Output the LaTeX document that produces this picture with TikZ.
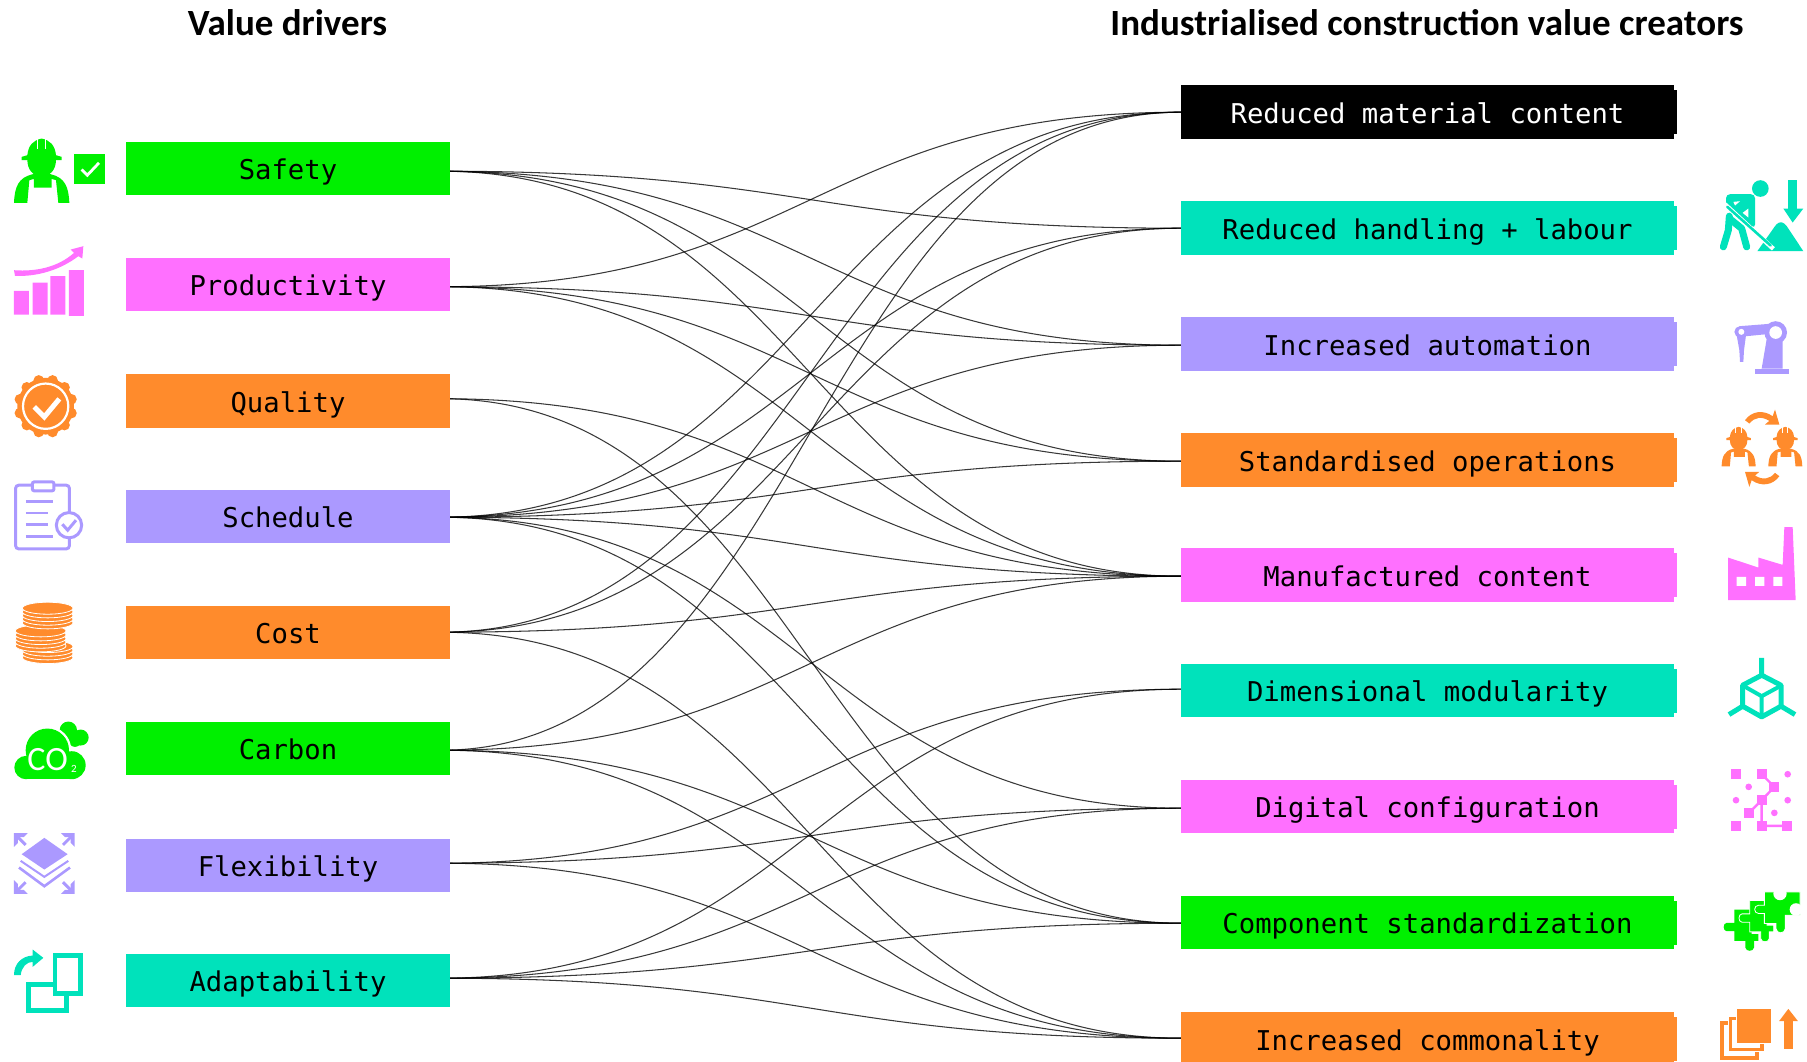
\documentclass[tikz,border=0pt]{standalone}
\usepackage{fontspec}
\setmainfont{DejaVu Sans Mono}
\newfontfamily\headfont{Carlito}
\usetikzlibrary{calc}
\definecolor{vgreen}{HTML}{00F000}
\definecolor{vpink}{HTML}{FF70FF}
\definecolor{vorange}{HTML}{FF8B2C}
\definecolor{vpurple}{HTML}{AB99FF}
\definecolor{vteal}{HTML}{00E2BB}
\pgfdeclarelayer{bg}
\pgfsetlayers{bg,main}
\tikzset{
  valuebox/.style={fill=#1,draw=none,inner sep=0pt,text=black,font=\fontsize{27.25}{30}\selectfont,
    text height=23pt,text depth=1pt,anchor=center,minimum width=324pt,minimum height=53pt},
  createbox/.style={valuebox=#1,minimum width=493pt,minimum height=54pt},
  heading/.style={font=\headfont\bfseries\fontsize{37}{40}\selectfont,text=black,inner sep=0pt},
  linkline/.style={draw=black,draw opacity=.78,line width=1.05pt},
  zoomed/.style={x=.33333pt,y=-.33333pt},
}
\def\offSafety{-2.5pt}\def\offProductivity{-2pt}\def\offQuality{2.5pt}\def\offSchedule{-.5pt}
\def\offCost{.5pt}\def\offCarbon{-1.5pt}\def\offFlexibility{2.5pt}\def\offAdaptability{2.5pt}
\def\offRa{0pt}\def\offRb{0pt}\def\offRc{-1pt}\def\offRd{-1pt}\def\offRe{-1pt}\def\offRf{1.5pt}\def\offRg{-1.5pt}\def\offRh{-.5pt}\def\offRi{1pt}
\newcommand\lnk[2]{\draw[linkline] ([xshift=-9pt,yshift=\csname off#1\endcsname]#1.east) .. controls +(365,0) and +(-365,0) .. ([yshift=\csname off#2\endcsname]#2.west);}
\newcommand\workerpath[1]{%
  \fill[#1] (65,110) -- (82,105) .. controls (85,75) and (100,60) .. (125,55) .. controls (150,60) and (165,75) .. (168,105) -- (185,110) -- (185,120) -- (65,120) -- cycle;
  \fill[#1] (82,118) .. controls (82,150) and (100,168) .. (125,168) .. controls (150,168) and (168,150) .. (168,118) -- cycle;
  \draw[white,line width=1pt] (112,52) -- (112,86) (137,52) -- (137,86);
  \fill[#1] (42,248) .. controls (44,200) and (55,172) .. (98,162) -- (152,162) .. controls (195,172) and (206,200) .. (208,248) -- (175,248) -- (168,180) -- (155,176) -- (155,202) -- (102,202) -- (102,176) -- (88,180) -- (82,248) -- cycle;
}
\newcommand\puzzlepiece{(283,1048) -- (335,1048) -- (335,1122) -- (355,1122) -- (355,1142) -- (342,1142) -- (342,1162) .. controls (340,1175) and (318,1175) .. (316,1162) -- (316,1142) -- (283,1142) -- (283,1113) -- (260,1113) .. controls (248,1113) and (248,1088) .. (260,1088) -- (283,1088) -- cycle}
\begin{document}
\begin{tikzpicture}[x=1pt,y=-1pt]
\useasboundingbox (0,0) rectangle (1807,1061);
\clip (0,0) rectangle (1807,1061);
\begin{scope}[yshift=-.2pt]
% headings
\node[heading] (h1) at (287.5,22.5) {Value drivers};
\node[heading] (h2) at (1427,22.5) {Industrialised construction value creators};
% left boxes
\node[valuebox=vgreen] (Safety) at (288,168.5) {Safety};
\node[valuebox=vpink] (Productivity) at (288,284.5) {Productivity};
\node[valuebox=vorange,minimum height=54pt] (Quality) at (288,401) {Quality};
\node[valuebox=vpurple] (Schedule) at (288,516.5) {Schedule};
\node[valuebox=vorange] (Cost) at (288,632.5) {Cost};
\node[valuebox=vgreen] (Carbon) at (288,748.5) {Carbon};
\node[valuebox=vpurple] (Flexibility) at (288,865.5) {Flexibility};
\node[valuebox=vteal] (Adaptability) at (288,980.5) {Adaptability};
% right boxes
\node[createbox=black,text=white] (Ra) at (1427.5,112) {Reduced material content};
\node[createbox=vteal] (Rb) at (1427.5,228) {Reduced handling + labour};
\node[createbox=vpurple] (Rc) at (1427.5,344) {Increased automation};
\node[createbox=vorange] (Rd) at (1427.5,460) {Standardised operations};
\node[createbox=vpink] (Re) at (1427.5,575) {Manufactured content};
\node[createbox=vteal,minimum height=53pt] (Rf) at (1427.5,690.5) {Dimensional modularity};
\node[createbox=vpink,minimum height=53pt] (Rg) at (1427.5,806.5) {Digital configuration};
\node[createbox=vgreen,minimum height=53pt] (Rh) at (1427.5,922.5) {Component standardization};
\node[createbox=vorange] (Ri) at (1427.5,1039) {Increased commonality};
\foreach \n/\c in {Ra/black,Rb/vteal,Rc/vpurple,Rd/vorange,Re/vpink,Rf/vteal,Rg/vpink,Rh/vgreen,Ri/vorange}
  {\fill[\c] ([yshift=22pt]\n.east) rectangle ([xshift=3pt,yshift=-22pt]\n.east);}
% connectors
\begin{pgfonlayer}{bg}
\foreach \a/\b in {Safety/Rb,Safety/Rc,Safety/Rd,Safety/Re,
  Productivity/Ra,Productivity/Rc,Productivity/Rd,Productivity/Re,
  Quality/Re,Quality/Rh,
  Schedule/Ra,Schedule/Rb,Schedule/Rc,Schedule/Rd,Schedule/Re,Schedule/Rg,Schedule/Rh,
  Cost/Ra,Cost/Rb,Cost/Re,Cost/Ri,
  Carbon/Ra,Carbon/Re,Carbon/Rh,Carbon/Ri,
  Flexibility/Rf,Flexibility/Rg,Flexibility/Ri,
  Adaptability/Rf,Adaptability/Rg,Adaptability/Rh,Adaptability/Ri}{\lnk{\a}{\b}}
\end{pgfonlayer}
% left icons, first group
\begin{scope}[shift={(0,120)},zoomed]
  \workerpath{vgreen}
  \fill[vgreen] (223,100) rectangle (316,192);
  \draw[white,line width=2.8pt] (245,148) -- (262,165) -- (297,128);
  % productivity
  \fill[vpink] (42,512) rectangle (87,583) (98,487) rectangle (143,583) (151,468) rectangle (196,583) (207,450) rectangle (252,587);
  \fill[vpink] (42,450) .. controls (110,455) and (175,440) .. (222,398) -- (212,388) -- (250,378) -- (247,415) -- (235,408) .. controls (180,450) and (110,470) .. (45,467) -- cycle;
  % quality
  \fill[vorange] (137,858) circle[radius=85];
  \foreach \k in {0,30,...,330}
    {\fill[vorange] ($(137,858)+(\k+15:80)$) circle[radius=16];}
  \draw[white,line width=2.2pt] (137,858) circle[radius=68];
  \draw[white,line width=5pt] (103,860) -- (133,890) -- (178,836);
  % schedule
  \draw[vpurple,line width=3pt,rounded corners=3pt] (47,1095) rectangle (208,1286);
  \draw[vpurple,fill=white,line width=3pt,rounded corners=2pt] (97,1085) rectangle (162,1112);
  \draw[vpurple,line width=2.6pt] (78,1143) -- (160,1143) (78,1178) -- (145,1178) (78,1213) -- (145,1213) (78,1248) -- (160,1248);
  \draw[vpurple,fill=white,line width=3pt] (207,1215) circle[radius=38];
  \draw[vpurple,line width=3pt] (187,1212) -- (203,1230) -- (228,1200);
\end{scope}
% left icons, second group
\begin{scope}[shift={(0,580)},zoomed]
  % cost
  \foreach \cx/\yy in {143/232,143/221,143/210,143/199,122/197,122/186,122/175,122/164,122/152,143/128,143/117,143/106,143/95,143/84}
    {\filldraw[fill=vorange,draw=white,line width=.8pt] (\cx,\yy) ellipse[x radius=76,y radius=18];}
  % carbon
  \fill[vgreen] (205,450) circle[radius=26];
  \fill[vgreen] (242,472) circle[radius=24];
  \fill[vgreen] (225,480) circle[radius=20];
  \fill[white] (142,510) circle[radius=72];
  \fill[white] (215,555) circle[radius=48];
  \fill[vgreen] (142,510) circle[radius=65];
  \fill[vgreen] (78,562) circle[radius=35];
  \fill[vgreen] (215,555) circle[radius=42];
  \fill[vgreen] (78,530) rectangle (215,597);
  \node[text=white,inner sep=0pt,font=\headfont\fontsize{34}{36}\selectfont] (co) at (143,537) {CO};
  \node[text=white,inner sep=0pt,font=\headfont\fontsize{11}{12}\selectfont] (cotwo) at (222,567) {2};
  % flexibility
  \fill[vpurple] (133,773) -- (203,822) -- (133,868) -- (65,822) -- cycle;
  \draw[vpurple,line width=2pt] (62,842) -- (133,890) -- (205,842);
  \draw[vpurple,line width=2.6pt] (57,862) -- (133,918) -- (210,862);
  \foreach \sx/\sy in {1/1,-1/1,1/-1,-1/-1}
    {\begin{scope}[shift={(133,850)},xscale=\sx,yscale=\sy]
      \fill[vpurple] (-91,-91) -- (-50,-91) -- (-62,-79) -- (-79,-79) -- (-79,-62) -- (-91,-50) -- cycle;
      \draw[vpurple,line width=3pt] (-82,-82) -- (-56,-56);
    \end{scope}}
  % adaptability
  \draw[vteal,line width=4.8pt] (85,1212) rectangle (200,1291);
  \draw[vteal,fill=white,line width=4.8pt] (165,1127) rectangle (242,1241);
  \fill[vteal] (42,1185) .. controls (42,1150) and (65,1128) .. (98,1126) -- (98,1108) -- (130,1133) -- (98,1160) -- (98,1145) .. controls (80,1145) and (65,1160) .. (62,1185) -- cycle;
\end{scope}
% right icons, first group
\begin{scope}[shift={(1640,60)},zoomed]
  % digger
  \fill[vteal] (361,385) circle[radius=25];
  \draw[vteal,line width=7pt,line join=round,line cap=round] (268,468) -- (265,510) -- (250,560);
  \draw[vteal,line width=7pt,line join=round,line cap=round] (272,478) -- (305,505) -- (320,560);
  \fill[vteal,rounded corners=4pt] (258,402) -- (345,402) -- (345,505) -- (322,490) -- (258,440) -- cycle;
  \fill[white] (280,425) -- (300,423) -- (285,436) -- cycle (308,458) -- (325,445) -- (325,472) -- cycle;
  \fill[vteal] (352,573) -- (400,505) .. controls (415,480) and (430,480) .. (445,505) -- (490,573) -- cycle;
  \draw[white,line width=4.4pt] (250,428) -- (400,566);
  \draw[vteal,line width=2.6pt,line cap=round] (262,440) -- (392,556);
  \fill[vteal] (445,358) rectangle (470,445);
  \fill[vteal] (430,445) -- (490,445) -- (458,487) -- cycle;
  % robot
  \fill[vpurple] (345,925) rectangle (447,940);
  \fill[vpurple] (365,925) -- (382,825) -- (428,825) -- (428,925) -- cycle;
  \fill[vpurple] (298,798) -- (400,790) -- (400,820) -- (298,830) -- cycle;
  \fill[vpurple] (407,817) circle[radius=34];
  \fill[white] (407,817) circle[radius=19];
  \fill[vpurple] (300,815) circle[radius=17];
  \fill[white] (304,815) circle[radius=9];
  \fill[vpurple] (290,825) -- (318,825) -- (312,870) -- (310,905) -- (300,905) -- (298,870) -- cycle;
  % swapped workers
  \begin{scope}[shift={(219,1066)},scale=.615]\workerpath{vorange}\end{scope}
  \begin{scope}[shift={(359,1066)},scale=.615]\workerpath{vorange}\end{scope}
  \fill[vorange] (315,1080) .. controls (335,1052) and (370,1048) .. (398,1068) -- (405,1048) -- (418,1093) -- (375,1093) -- (388,1082) .. controls (365,1068) and (345,1070) .. (328,1090) -- cycle;
  \begin{scope}[shift={(733,2328)},xscale=-1,yscale=-1]
    \fill[vorange] (315,1080) .. controls (335,1052) and (370,1048) .. (398,1068) -- (405,1048) -- (418,1093) -- (375,1093) -- (388,1082) .. controls (365,1068) and (345,1070) .. (328,1090) -- cycle;
  \end{scope}
\end{scope}
% right icons, second group
\begin{scope}[shift={(1640,560)},zoomed]
  % factory
  \fill[vpink] (264,120) -- (264,-8) -- (355,22) -- (355,-8) -- (428,14) -- (433,-99) -- (458,-99) -- (467,120) -- cycle;
  \fill[white] (290,50) rectangle (318,77) (345,50) rectangle (373,77) (400,50) rectangle (427,77);
  % cube
  \draw[vteal,line width=5pt,line join=round] (365,345) -- (423,375) -- (423,438) -- (365,470) -- (308,438) -- (308,375) -- cycle;
  \draw[vteal,line width=4pt] (312,378) -- (365,408) -- (420,378) (365,408) -- (365,470);
  \draw[vteal,line width=5pt] (365,293) -- (365,345) (308,438) -- (267,463) (423,438) -- (465,463);
  % digital
  \foreach \cx/\cy in {288/642,365/642,403/680,365/720,327/758,288/797,365/797,442/797}
    {\fill[vpink] (\cx-15,\cy-15) rectangle (\cx+15,\cy+15);}
  \foreach \cx/\cy in {443/642,326/680,288/720,443/720,403/758}
    {\fill[vpink] (\cx,\cy) circle[radius=10];}
  \draw[vpink,line width=2.4pt] (365,642) -- (403,680) -- (365,720) -- (327,758) (365,720) -- (365,797) -- (442,797);
  % puzzle
  \fill[vgreen] \puzzlepiece;
  \begin{scope}[shift={(46,-27)}]
    \filldraw[fill=vgreen,draw=white,line width=.8pt] \puzzlepiece;
  \end{scope}
  \filldraw[fill=vgreen,draw=white,line width=.8pt] (373,995) -- (480,995) -- (480,1065) -- (436,1065) -- (436,1105) .. controls (434,1122) and (410,1122) .. (408,1105) -- (408,1090) -- (373,1090) -- (373,1060) -- (356,1060) .. controls (340,1060) and (340,1035) .. (356,1035) -- (373,1035) -- cycle;
  \fill[white] (420,1000) circle[radius=20] (468,1048) circle[radius=19];
  % copies
  \fill[vorange] (240,1383) rectangle (357,1500);
  \fill[white] (252,1395) rectangle (345,1488);
  \filldraw[fill=vorange,draw=white,line width=1pt] (265,1368) rectangle (372,1475);
  \fill[white] (277,1380) rectangle (360,1463);
  \filldraw[fill=vorange,draw=white,line width=1pt] (290,1346) rectangle (395,1450);
  \fill[vorange] (431,1383) rectangle (458,1465);
  \fill[vorange] (417,1383) -- (474,1383) -- (445,1346) -- cycle;
\end{scope}
\end{scope}
\end{tikzpicture}
\end{document}
